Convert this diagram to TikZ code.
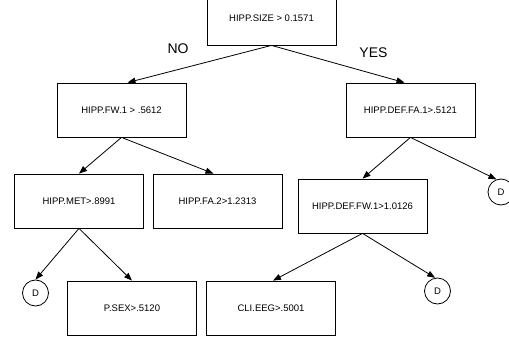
\documentclass[tikz,border=0pt]{standalone}
\usepackage{fontspec}
\setmainfont{Liberation Sans}
\usetikzlibrary{arrows.meta}

\begin{document}
\begin{tikzpicture}[x=1pt,y=-1pt,
    test/.style={draw,line width=0.8pt,minimum width=129pt,minimum height=54pt,inner sep=0pt,font=\fontsize{9.5}{11}\selectfont},
    leaf/.style={circle,draw,line width=0.8pt,minimum size=26pt,inner sep=0pt,font=\fontsize{9.5}{11}\selectfont},
    branch/.style={font=\fontsize{14}{16}\selectfont},
    edge/.style={line width=0.8pt,-{Triangle[length=8pt,width=6pt]}}]
    \useasboundingbox (0,0) rectangle (509,337);
    \clip (0,0) rectangle (509,337);

    \node[test] (size) at (271.5,18) {HIPP.SIZE > 0.1571};
    \node[branch] (no) at (178,49) {NO};
    \node[branch] (yes) at (373.5,53) {YES};

    \node[test] (fw) at (121.5,110) {HIPP.FW.1 > .5612};
    \node[test] (deffa) at (410.5,110) {HIPP.DEF.FA.1>.5121};

    \node[test] (met) at (79,201) {HIPP.MET>.8991};
    \node[test] (fa) at (217.5,201) {HIPP.FA.2>1.2313};
    \node[test] (deffw) at (362.5,206) {HIPP.DEF.FW.1>1.0126};
    \node[leaf] (da) at (501,192) {D};

    \node[leaf] (db) at (35.5,293) {D};
    \node[test] (sex) at (132,308) {P.SEX>.5120};
    \node[test] (eeg) at (271,308) {CLI.EEG>.5001};
    \node[leaf] (dc) at (437.5,291) {D};

    \draw[edge] (size.south) -- ([xshift=6pt]fw.north);
    \draw[edge] (size.south) -- ([xshift=-6pt]deffa.north);
    \draw[edge] (fw.south) -- (met.north);
    \draw[edge] (fw.south) -- ([xshift=-4pt]fa.north);
    \draw[edge] (deffa.south) -- (deffw.north);
    \draw[edge] (deffa.south) -- (da.110);
    \draw[edge] (met.south) -- (db.north);
    \draw[edge] (met.south) -- (sex.north);
    \draw[edge] (deffw.south) -- ([xshift=2pt]eeg.north);
    \draw[edge] (deffw.south) -- (dc.100);
\end{tikzpicture}
\end{document}
